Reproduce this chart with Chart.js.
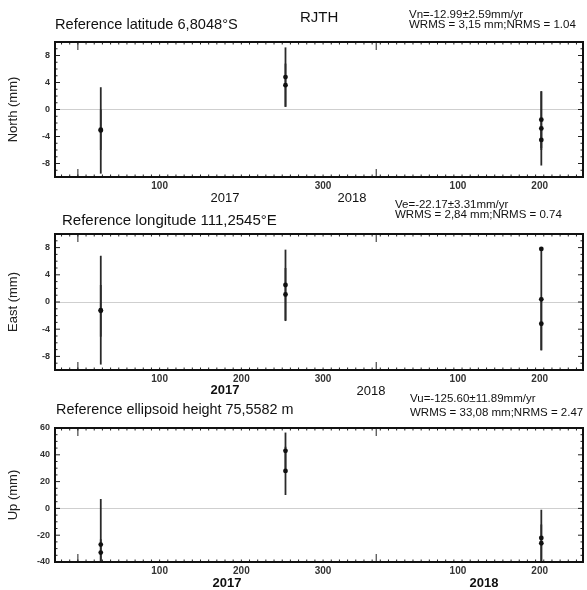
<!DOCTYPE html>
<html>
<head>
<meta charset="utf-8">
<script src="https://cdn.jsdelivr.net/npm/chart.js@4/dist/chart.umd.min.js"></script>
<style>
html, body { margin: 0; padding: 0; background: #fff; overflow: hidden; }
#wrap { position: relative; width: 587px; height: 590px; font-family: "Liberation Sans", Arial, sans-serif; color: #111; }
canvas { position: absolute; left: 0; }
.t { position: absolute; white-space: nowrap; line-height: 1; }
.yr { position: absolute; white-space: nowrap; line-height: 1; transform: translate(-50%, -50%); font-size: 13px; }
</style>
</head>
<body>
<div id="wrap">
  <canvas id="north" width="587" height="175" style="top:30px"></canvas>
  <canvas id="east" width="587" height="175" style="top:222px"></canvas>
  <canvas id="up" width="587" height="174" style="top:416px"></canvas>

  <div class="t" style="left:55px;top:17px;font-size:14.6px">Reference latitude 6,8048°S</div>
  <div class="t" style="left:300px;top:9px;font-size:15px">RJTH</div>
  <div class="t" style="left:409px;top:9px;font-size:11.5px">Vn=-12.99±2.59mm/yr</div>
  <div class="t" style="left:409px;top:19px;font-size:11.5px">WRMS = 3,15 mm;NRMS = 1.04</div>

  <div class="t" style="left:62px;top:212px;font-size:15px">Reference longitude  111,2545°E</div>
  <div class="t" style="left:395px;top:199px;font-size:11.5px">Ve=-22.17±3.31mm/yr</div>
  <div class="t" style="left:395px;top:209px;font-size:11.5px">WRMS = 2,84 mm;NRMS = 0.74</div>

  <div class="t" style="left:56px;top:402px;font-size:14.4px">Reference ellipsoid height 75,5582 m</div>
  <div class="t" style="left:410px;top:393px;font-size:11.5px">Vu=-125.60±11.89mm/yr</div>
  <div class="t" style="left:410px;top:407px;font-size:11.5px">WRMS = 33,08 mm;NRMS = 2.47</div>

  <div class="yr" style="left:225px;top:197px">2017</div>
  <div class="yr" style="left:352px;top:197px">2018</div>
  <div class="yr" style="left:225px;top:389px;font-weight:bold">2017</div>
  <div class="yr" style="left:371px;top:390px">2018</div>
  <div class="yr" style="left:227px;top:582px;font-weight:bold">2017</div>
  <div class="yr" style="left:484px;top:582px;font-weight:bold">2018</div>
</div>

<script>
// time axis: days since 2017-01-01
const dayMin = -28;
const dayMax = 618;
const yearStarts = [0, 365];

// x tick positions (day counts) per panel
const northTicksX = [100, 300, 465, 565];
const eastTicksX = [100, 200, 300, 465, 565];
const upTicksX = [100, 200, 300, 465, 565];

// North
const northDays = [28, 28, 254, 254, 567, 567, 567];
const northValues = [-3.1, -3.0, 4.8, 3.6, -1.5, -2.8, -4.5];
const northSigmas = [6.4, 3.0, 4.4, 3.2, 4.2, 5.5, 1.5];
const northTicksY = [-8, -4, 0, 4, 8];

// East
const eastDays = [28, 28, 254, 254, 567, 567, 567];
const eastValues = [-1.2, -1.3, 2.5, 1.1, 7.8, 0.4, -3.2];
const eastSigmas = [8.0, 3.8, 5.2, 3.9, 0.2, 7.5, 3.9];
const eastTicksY = [-8, -4, 0, 4, 8];

// Up
const upDays = [28, 28, 254, 254, 567, 567];
const upValues = [-27, -33, 43, 28, -22, -26];
const upSigmas = [34, 10, 13.6, 18, 21, 14];
const upTicksY = [-40, -20, 0, 20, 40, 60];

// Draw error bars from the sigma stored on each point
const errorBars = {
    id: 'errorBars',
    beforeDatasetsDraw(chart) {
        const ctx = chart.ctx;
        const area = chart.chartArea;
        const xs = chart.scales.x, ys = chart.scales.y;
        ctx.save();
        ctx.beginPath();
        ctx.rect(area.left, area.top, area.right - area.left, area.bottom - area.top);
        ctx.clip();
        ctx.strokeStyle = '#2a2a2a';
        ctx.lineWidth = 1.8;
        chart.data.datasets[0].data.forEach(p => {
            const px = xs.getPixelForValue(p.x);
            ctx.beginPath();
            ctx.moveTo(px, ys.getPixelForValue(p.y - p.s));
            ctx.lineTo(px, ys.getPixelForValue(p.y + p.s));
            ctx.stroke();
        });
        ctx.restore();
    }
};

// Frame with inward tick marks
const frame = {
    id: 'frame',
    afterDraw(chart, args, opts) {
        const ctx = chart.ctx;
        const a = chart.chartArea;
        const xs = chart.scales.x, ys = chart.scales.y;
        ctx.save();
        ctx.strokeStyle = '#222';
        ctx.lineWidth = 1;
        ctx.beginPath();
        for (let d = -20; d <= dayMax; d += 10) {
            const px = xs.getPixelForValue(d);
            ctx.moveTo(px, a.top); ctx.lineTo(px, a.top + 2.5);
            ctx.moveTo(px, a.bottom); ctx.lineTo(px, a.bottom - 2.5);
        }
        yearStarts.forEach(d => {
            const px = xs.getPixelForValue(d);
            ctx.moveTo(px, a.top); ctx.lineTo(px, a.top + 8);
            ctx.moveTo(px, a.bottom); ctx.lineTo(px, a.bottom - 8);
        });
        for (let v = ys.min; v <= ys.max; v += opts.minorY) {
            const py = ys.getPixelForValue(v);
            const len = opts.ticksY.includes(v) ? 5 : 2.5;
            ctx.moveTo(a.left, py); ctx.lineTo(a.left + len, py);
            ctx.moveTo(a.right, py); ctx.lineTo(a.right - len, py);
        }
        ctx.stroke();
        ctx.strokeStyle = '#111';
        ctx.lineWidth = 2;
        ctx.strokeRect(a.left, a.top, a.right - a.left, a.bottom - a.top);
        ctx.restore();
    }
};

function makePanel(id, title, days, values, sigmas, ticksX, ticksY, yMin, yMax, minorY, xAxisH) {
    const points = days.map((d, i) => ({ x: d, y: values[i], s: sigmas[i] }));
    new Chart(document.getElementById(id), {
        type: 'scatter',
        data: {
            datasets: [{
                data: points,
                pointRadius: 2.4,
                pointBackgroundColor: '#111',
                pointBorderWidth: 0
            }]
        },
        options: {
            responsive: false,
            animation: false,
            layout: { padding: { top: 12, right: 2, left: 6, bottom: 0 } },
            plugins: {
                legend: { display: false },
                tooltip: { enabled: false },
                frame: { ticksY: ticksY, minorY: minorY }
            },
            scales: {
                x: {
                    type: 'linear',
                    min: dayMin,
                    max: dayMax,
                    afterBuildTicks: s => { s.ticks = ticksX.map(v => ({ value: v })); },
                    afterFit: s => { s.height = xAxisH; },
                    grid: { display: false, drawTicks: false },
                    border: { display: false },
                    ticks: {
                        padding: 3,
                        maxRotation: 0,
                        autoSkip: false,
                        color: '#333',
                        font: { size: 10, weight: 'bold', family: 'Liberation Sans' },
                        callback: v => (v >= 365 ? v - 365 : v)
                    }
                },
                y: {
                    min: yMin,
                    max: yMax,
                    afterBuildTicks: s => { s.ticks = ticksY.map(v => ({ value: v })); },
                    afterFit: s => { s.width = 49; },
                    grid: {
                        drawTicks: false,
                        lineWidth: 1,
                        color: c => (c.tick && c.tick.value === 0 ? '#cfcfcf' : 'rgba(0,0,0,0)')
                    },
                    border: { display: false },
                    title: {
                        display: true,
                        text: title,
                        color: '#222',
                        padding: { top: 0, bottom: 2 },
                        font: { size: 13, family: 'Liberation Sans' }
                    },
                    ticks: {
                        padding: 5,
                        color: '#333',
                        font: { size: 9, weight: 'bold', family: 'Liberation Sans' }
                    }
                }
            }
        },
        plugins: [errorBars, frame]
    });
}

makePanel('north', 'North (mm)', northDays, northValues, northSigmas, northTicksX, northTicksY, -10, 10, 1, 28);
makePanel('east', 'East (mm)', eastDays, eastValues, eastSigmas, eastTicksX, eastTicksY, -10, 10, 1, 27);
makePanel('up', 'Up (mm)', upDays, upValues, upSigmas, upTicksX, upTicksY, -40, 60, 5, 28);
</script>
</body>
</html>
